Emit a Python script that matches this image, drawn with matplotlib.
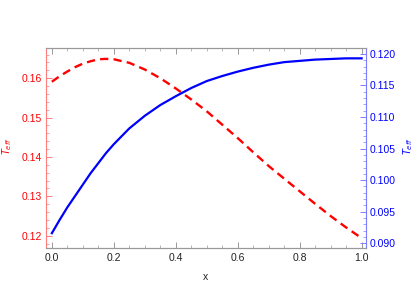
import matplotlib
matplotlib.use("Agg")
import matplotlib.pyplot as plt
from matplotlib.ticker import MultipleLocator

plt.rcParams['font.family'] = ['Liberation Sans', 'DejaVu Sans']

x_vals = [0.000, 0.025, 0.050, 0.075, 0.100, 0.125, 0.150, 0.175, 0.200,
          0.250, 0.300, 0.350, 0.400, 0.450, 0.500, 0.550, 0.600, 0.650,
          0.700, 0.750, 0.800, 0.850, 0.900, 0.950, 1.000]
# left axis (red, dashed)
t_left = [0.1591, 0.1605, 0.1617, 0.1628, 0.1637, 0.1643, 0.1648, 0.1649,
          0.1648, 0.1639, 0.1622, 0.1600, 0.1574, 0.1546, 0.1516, 0.1482,
          0.1448, 0.1412, 0.1377, 0.1345, 0.1313, 0.1281, 0.1250, 0.1221,
          0.1194]
# right axis (blue, solid)
t_right = [0.0916, 0.0937, 0.0957, 0.0975, 0.0993, 0.1011, 0.1027, 0.1043,
           0.1057, 0.1082, 0.1102, 0.1119, 0.1133, 0.1146, 0.1157, 0.1165,
           0.1172, 0.1178, 0.1183, 0.1187, 0.1189, 0.1191, 0.1192, 0.1193,
           0.1193]

red = '#ff0000'
blue = '#0000ff'
gray = '#999999'

fig = plt.figure(figsize=(4.15, 2.96), dpi=100)
ax = fig.add_axes([0.1108, 0.161, 0.771, 0.676])
ax2 = ax.twinx()

ax.plot(x_vals, t_left, color=red, linestyle=(0, (3.5, 2.2)), linewidth=1.7)
ax2.plot(x_vals, t_right, color=blue, linewidth=1.6)

ax.set_xlim(-0.019, 1.014)
ax.set_ylim(0.1168, 0.1676)
ax2.set_ylim(0.0892, 0.1209)

ax.xaxis.set_major_locator(MultipleLocator(0.2))
ax.xaxis.set_minor_locator(MultipleLocator(0.05))
ax.yaxis.set_major_locator(MultipleLocator(0.01))
ax.yaxis.set_minor_locator(MultipleLocator(0.002))
ax2.yaxis.set_major_locator(MultipleLocator(0.005))
ax2.yaxis.set_minor_locator(MultipleLocator(0.001))
ax.xaxis.set_major_formatter(lambda v, p: f'{v:.1f}')
ax.yaxis.set_major_formatter(lambda v, p: f'{v:.2f}')
ax2.yaxis.set_major_formatter(lambda v, p: f'{v:.3f}')

for a in (ax, ax2):
    for s in a.spines.values():
        s.set_color(gray)
        s.set_linewidth(0.8)
    a.spines['left'].set_color((1, 0.4, 0.4, 0.6))
    a.spines['right'].set_color((0.4, 0.4, 1, 0.6))

ax.tick_params(axis='x', which='both', direction='in', top=True, colors=gray,
               labelcolor='#222222', labelsize=7.5, pad=3)
ax.tick_params(axis='x', which='major', length=4, width=0.7)
ax.tick_params(axis='x', which='minor', length=2, width=0.5)
ax.tick_params(axis='y', which='both', direction='in', color=(1, 0.5, 0.5),
               labelcolor=red, labelsize=7.5, pad=3)
ax.tick_params(axis='y', which='major', length=4, width=0.7)
ax.tick_params(axis='y', which='minor', length=2, width=0.5)
ax2.tick_params(axis='y', which='both', direction='in', color=(0.5, 0.5, 1),
                labelcolor=blue, labelsize=7.5, pad=3)
ax2.tick_params(axis='y', which='major', length=4, width=0.7)
ax2.tick_params(axis='y', which='minor', length=2, width=0.5)

ax.set_xlabel('x', fontsize=7.5, color='#222222', labelpad=7)
ax.set_ylabel(r'$T_{eff}$', fontsize=7, color=red)
ax2.set_ylabel(r'$T_{eff}$', fontsize=7, color=blue)
ax.yaxis.set_label_coords(-0.1, 0.51)
ax2.yaxis.set_label_coords(1.11, 0.51)

fig.savefig('out.png', dpi=100)
